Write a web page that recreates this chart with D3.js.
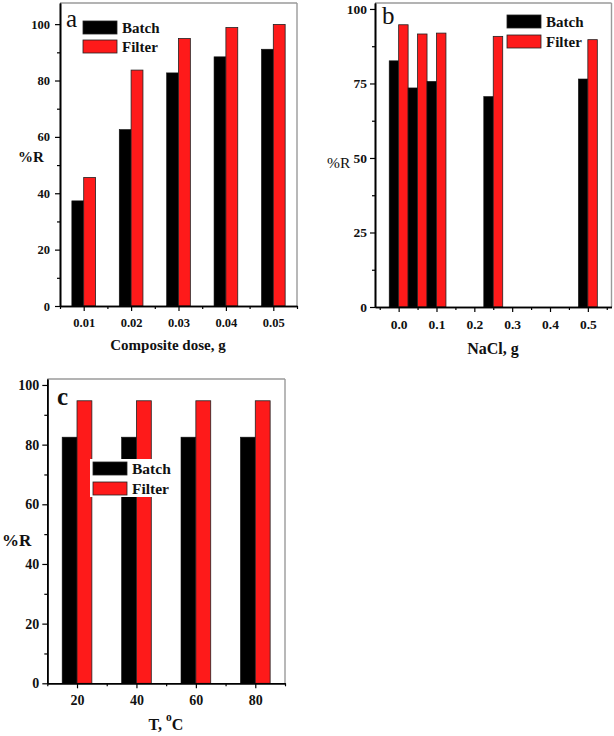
<!DOCTYPE html>
<html lang="en">
<head>
<meta charset="UTF-8" />
<title>%R batch vs filter</title>
<script src="https://cdn.jsdelivr.net/npm/d3@7"></script>
<style>
    body { margin: 0; background: #fff; }
    svg { display: block; }
    text { font-family: 'Liberation Serif', 'Times New Roman', serif; fill: #111; }
</style>
</head>
<body>
<div id="chart"></div>
<script>
// panel a: composite dose
const doseA = [0.01, 0.02, 0.03, 0.04, 0.05]
const batchA = [37.3, 62.6, 82.7, 88.4, 91.1]
const filterA = [45.6, 83.7, 94.9, 98.8, 99.9]
const xTicksA = [0.01, 0.02, 0.03, 0.04, 0.05]
const xMinorA = [0.005, 0.015, 0.025, 0.035, 0.045, 0.055]
const yTicksA = [0, 20, 40, 60, 80, 100]
const yMinorA = [10, 30, 50, 70, 90]

// panel b: NaCl
const naclB = [0, 0.05, 0.1, 0.25, 0.5]
const batchB = [82.6, 73.5, 75.7, 70.6, 76.5]
const filterB = [94.7, 91.6, 91.9, 90.8, 89.7]
const xTicksB = [0, 0.1, 0.2, 0.3, 0.4, 0.5]
const xMinorB = [-0.05, 0.05, 0.15, 0.25, 0.35, 0.45, 0.55]
const yTicksB = [0, 25, 50, 75, 100]
const yMinorB = [12.5, 37.5, 62.5, 87.5]

// panel c: temperature
const tempC = [20, 40, 60, 80]
const batchC = [82.5, 82.5, 82.5, 82.5]
const filterC = [94.7, 94.7, 94.7, 94.7]
const xTicksC = [20, 40, 60, 80]
const xMinorC = [10, 30, 50, 70, 90]
const yTicksC = [0, 20, 40, 60, 80, 100]
const yMinorC = [10, 30, 50, 70, 90]

const seriesNames = ['Batch', 'Filter']
const RED = '#fe1a1a'

const svg = d3.select('#chart').append('svg').attr('width', 614).attr('height', 736)

const drawPanel = (p) => {
    const x = d3.scaleLinear().domain(p.xDomain).range([p.left, p.right])
    const y = d3.scaleLinear().domain(p.yDomain).range([p.bottom, p.top])
    const g = svg.append('g')

    // grey frame top / right
    g.append('line').attr('x1', p.left).attr('x2', p.right).attr('y1', p.top).attr('y2', p.top)
        .attr('stroke', '#9a9a9a').attr('stroke-width', 1.4)
    g.append('line').attr('x1', p.right).attr('x2', p.right).attr('y1', p.top).attr('y2', p.bottom)
        .attr('stroke', '#9a9a9a').attr('stroke-width', 1.4)

    // bars
    p.xs.forEach((v, i) => {
        g.append('rect')
            .attr('x', x(v - p.w)).attr('width', x(v) - x(v - p.w))
            .attr('y', y(p.batch[i])).attr('height', y(0) - y(p.batch[i]))
            .attr('fill', '#000').attr('stroke', '#111').attr('stroke-width', 0.6)
        g.append('rect')
            .attr('x', x(v)).attr('width', x(v + p.w) - x(v))
            .attr('y', y(p.filter[i])).attr('height', y(0) - y(p.filter[i]))
            .attr('fill', RED).attr('stroke', '#222').attr('stroke-width', 0.8)
    })

    // axes
    const xAxis = g.append('g').attr('transform', `translate(0,${p.bottom})`)
        .call(d3.axisBottom(x).tickValues(p.xTicks).tickSize(5).tickSizeOuter(0).tickPadding(7).tickFormat(p.xFormat))
    g.append('g').attr('transform', `translate(0,${p.bottom})`)
        .call(d3.axisBottom(x).tickValues(p.xMinor).tickSize(3).tickSizeOuter(0).tickFormat(''))
    const yAxis = g.append('g').attr('transform', `translate(${p.left},0)`)
        .call(d3.axisLeft(y).tickValues(p.yTicks).tickSize(5).tickSizeOuter(0).tickPadding(p.yPad).tickFormat(d3.format('d')))
    g.append('g').attr('transform', `translate(${p.left},0)`)
        .call(d3.axisLeft(y).tickValues(p.yMinor).tickSize(3).tickSizeOuter(0).tickFormat(''))

    g.selectAll('.domain').attr('stroke', '#000').attr('stroke-width', 1.6)
    g.selectAll('.tick line').attr('stroke', '#000').attr('stroke-width', 1.2)
    xAxis.selectAll('text').attr('font-size', p.tickFont).attr('font-weight', 'bold')
        .attr('font-family', 'Liberation Serif').attr('fill', '#111')
    yAxis.selectAll('text').attr('font-size', p.tickFont).attr('font-weight', 'bold')
        .attr('font-family', 'Liberation Serif').attr('fill', '#111')

    // legend
    if (p.legendBox) {
        g.append('rect').attr('x', p.legendBox[0]).attr('y', p.legendBox[1])
            .attr('width', p.legendBox[2]).attr('height', p.legendBox[3]).attr('fill', '#fff')
    }
    seriesNames.forEach((name, i) => {
        const ly = p.legend.y + i * p.legend.gap
        g.append('rect').attr('x', p.legend.x).attr('y', ly)
            .attr('width', p.legend.w).attr('height', p.legend.h)
            .attr('fill', i === 0 ? '#000' : RED).attr('stroke', '#222').attr('stroke-width', 0.8)
        g.append('text').attr('x', p.legend.x + p.legend.w + 5).attr('y', ly + p.legend.h - 1)
            .attr('font-size', p.legend.font).attr('font-weight', 'bold').text(name)
    })

    // panel letter
    g.append('text').attr('x', p.letter.x).attr('y', p.letter.y)
        .attr('font-size', 25).attr('font-weight', p.letter.bold ? 'bold' : 'normal').text(p.letter.t)

    // y title
    g.append('text').attr('x', p.yTitle.x).attr('y', p.yTitle.y)
        .attr('font-size', p.yTitle.font).attr('font-weight', p.yTitle.bold ? 'bold' : 'normal').text('%R')

    // x title
    const xt = g.append('text').attr('x', p.xTitle.x).attr('y', p.xTitle.y).attr('text-anchor', 'middle')
        .attr('font-size', p.xTitle.font).attr('font-weight', 'bold')
    if (p.xTitle.sup) {
        xt.append('tspan').text(p.xTitle.t)
        xt.append('tspan').attr('font-size', p.xTitle.font * 0.72).attr('dy', -9).text(p.xTitle.sup)
        xt.append('tspan').attr('dy', 9).text(p.xTitle.after)
    } else {
        xt.text(p.xTitle.t)
    }
}

drawPanel({
    left: 60, right: 297, top: 3, bottom: 306,
    xDomain: [0.005, 0.055], yDomain: [0, 107.5],
    xs: doseA, batch: batchA, filter: filterA, w: 0.0025,
    xTicks: xTicksA, xMinor: xMinorA, yTicks: yTicksA, yMinor: yMinorA,
    xFormat: d3.format('.2f'), tickFont: 12.5, yPad: 5,
    legend: { x: 83, y: 21, w: 34, h: 13, gap: 19, font: 15 },
    letter: { x: 66, y: 27, t: 'a', bold: false },
    yTitle: { x: 18, y: 162, font: 15, bold: true },
    xTitle: { x: 168, y: 350, font: 15, t: 'Composite dose, g' },
})

drawPanel({
    left: 375, right: 611.5, top: 3, bottom: 307,
    xDomain: [-0.0625, 0.5625], yDomain: [0, 102],
    xs: naclB, batch: batchB, filter: filterB, w: 0.025,
    xTicks: xTicksB, xMinor: xMinorB, yTicks: yTicksB, yMinor: yMinorB,
    xFormat: d3.format('.1f'), tickFont: 13.5, yPad: 3,
    legend: { x: 507, y: 15, w: 34, h: 13, gap: 20, font: 15 },
    letter: { x: 382, y: 24, t: 'b', bold: false },
    yTitle: { x: 327, y: 168, font: 15.5, bold: false },
    xTitle: { x: 493, y: 354, font: 16, t: 'NaCl, g' },
})

drawPanel({
    left: 47.3, right: 285, top: 379, bottom: 683.3,
    xDomain: [10, 90], yDomain: [0, 102],
    xs: tempC, batch: batchC, filter: filterC, w: 5,
    xTicks: xTicksC, xMinor: xMinorC, yTicks: yTicksC, yMinor: yMinorC,
    xFormat: d3.format('d'), tickFont: 14, yPad: 3,
    legendBox: [90, 459, 78, 38],
    legend: { x: 93, y: 462, w: 34, h: 13, gap: 20, font: 15.5 },
    letter: { x: 57, y: 405, t: 'c', bold: true },
    yTitle: { x: 2, y: 546, font: 17, bold: true },
    xTitle: { x: 166, y: 730, font: 16, t: 'T, ', sup: 'o', after: 'C' },
})
</script>
</body>
</html>
